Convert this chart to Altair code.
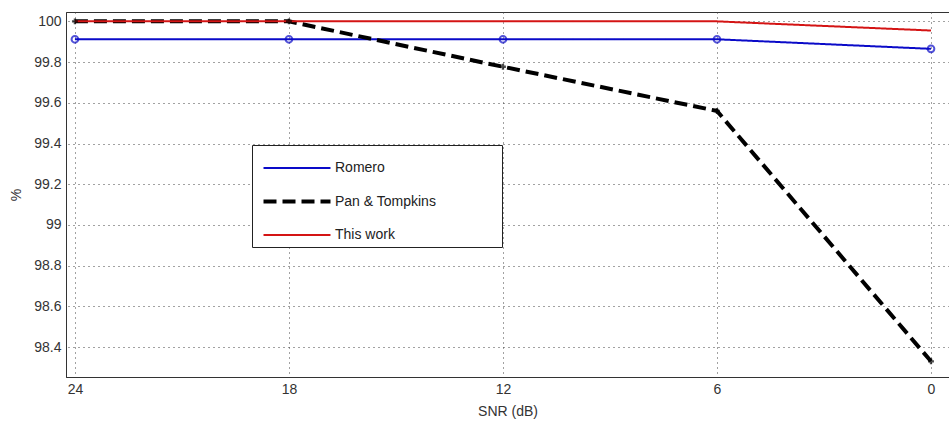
import altair as alt
import pandas as pd

snr = [24, 18, 12, 6, 0]
romero = [99.912, 99.912, 99.912, 99.912, 99.865]
pan_tompkins = [100.0, 100.0, 99.777, 99.56, 98.33]
this_work = [100.0, 100.0, 100.0, 100.0, 99.955]
series = ["Romero", "Pan & Tompkins", "This work"]
colors = ["#0a0ac8", "#000000", "#d41414"]
dashes = [[1, 0], [13, 6], [1, 0]]
widths = [2, 4, 2]
y_ticks = [98.4, 98.6, 98.8, 99, 99.2, 99.4, 99.6, 99.8, 100]

rows = []
for name, vals in zip(series, [romero, pan_tompkins, this_work]):
    for s, v in zip(snr, vals):
        rows.append({"snr": s, "pct": v, "series": name})
df = pd.DataFrame(rows)

x_enc = alt.X(
    "snr:Q",
    scale=alt.Scale(domain=[-0.505, 24.25], reverse=True, nice=False, zero=False),
    axis=alt.Axis(values=snr, title="SNR (dB)", format="d"),
)
y_enc = alt.Y(
    "pct:Q",
    scale=alt.Scale(domain=[98.253, 100.046], nice=False, zero=False),
    axis=alt.Axis(values=y_ticks, title="%", labelExpr="datum.value == 99 ? '99' : datum.value == 100 ? '100' : format(datum.value, '.1f')"),
)

pad_spaces = "\u2800" * 6
lines = alt.Chart(df).mark_line(clip=True).encode(
    x=x_enc,
    y=y_enc,
    color=alt.Color(
        "series:N",
        scale=alt.Scale(domain=series, range=colors),
        title=None,
        legend=alt.Legend(labelExpr=f"datum.label + '{pad_spaces}'"),
    ),
    strokeDash=alt.StrokeDash("series:N", scale=alt.Scale(domain=series, range=dashes), title=None),
    strokeWidth=alt.StrokeWidth("series:N", scale=alt.Scale(type="ordinal", domain=series, range=widths), title=None),
)

romero_pts = alt.Chart(df).transform_filter(alt.datum.series == "Romero").mark_point(
    shape="circle", filled=False, size=45, strokeWidth=2, color=colors[0], clip=True
).encode(x="snr:Q", y="pct:Q")

pan_pts = alt.Chart(df).transform_filter(alt.datum.series == "Pan & Tompkins").mark_point(
    shape="cross", filled=True, size=35, color="#000000", clip=True
).encode(x="snr:Q", y="pct:Q")

chart = alt.layer(lines, romero_pts, pan_pts).properties(
    width=883,
    height=365,
    autosize=alt.AutoSizeParams(type="none"),
    padding={"left": 66, "top": 12, "right": 0, "bottom": 48},
).configure_view(
    stroke="#333333", strokeWidth=1
).configure_axis(
    labelFont="Liberation Sans",
    labelFontSize=14,
    labelColor="#333333",
    titleFont="Liberation Sans",
    titleFontSize=14,
    titleFontWeight="normal",
    titleColor="#333333",
    domainColor="#333333",
    domainWidth=1,
    tickSize=0,
    labelPadding=5,
    grid=True,
    gridColor="#444444",
    gridDash=[1, 4],
    gridWidth=1,
).configure_axisX(
    titlePadding=8,
).configure_axisY(
    titlePadding=10,
).configure_legend(
    orient="none",
    legendX=186,
    legendY=133,
    strokeColor="#222222",
    fillColor="white",
    padding=5,
    symbolOffset=21,
    symbolType="M-2,0H2",
    symbolSize=1122,
    labelFont="Liberation Sans",
    labelFontSize=14,
    labelColor="#222222",
    labelOffset=19,
    rowPadding=7.5,
    labelLimit=400,
)

chart.save("out.html", embed_options={"renderer": "svg", "actions": False})
